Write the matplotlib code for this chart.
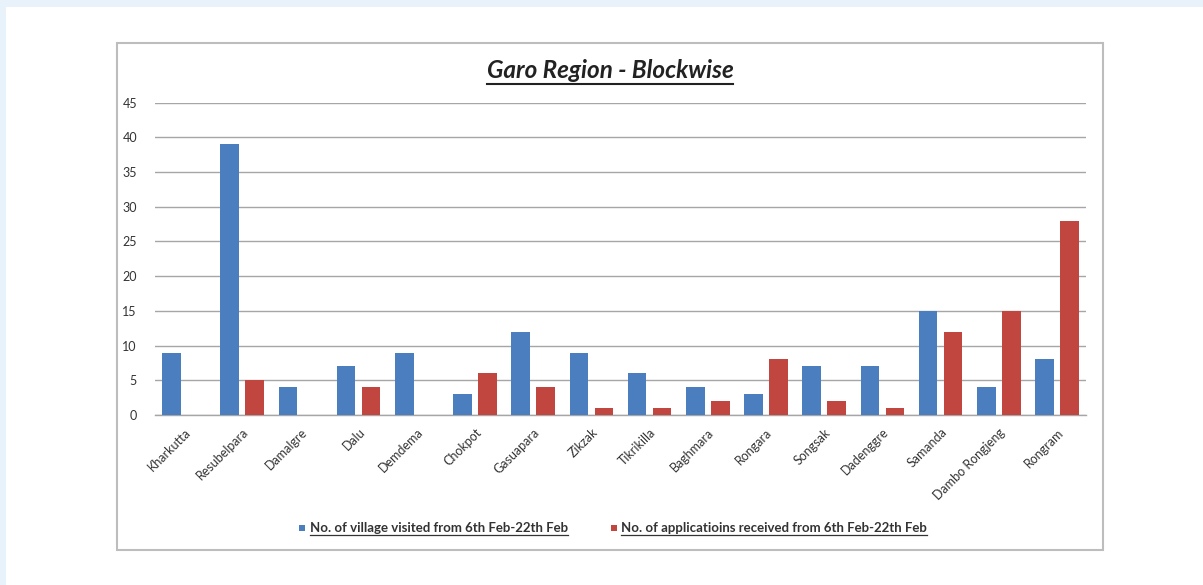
import matplotlib
matplotlib.use("Agg")
import matplotlib.pyplot as plt
from matplotlib.patches import Rectangle
from matplotlib.lines import Line2D
import numpy as np

plt.rcParams['font.family'] = ['Lato', 'DejaVu Sans']

blocks = ["Kharkutta", "Resubelpara", "Damalgre", "Dalu", "Demdema", "Chokpot",
          "Gasuapara", "Zikzak", "Tikrikilla", "Baghmara", "Rongara", "Songsak",
          "Dadenggre", "Samanda", "Dambo Rongjeng", "Rongram"]
villages = [9, 39, 4, 7, 9, 3, 12, 9, 6, 4, 3, 7, 7, 15, 4, 8]
applications = [0, 5, 0, 4, 0, 6, 4, 1, 1, 2, 8, 2, 1, 12, 15, 28]
yticks = [0, 5, 10, 15, 20, 25, 30, 35, 40, 45]
title = "Garo Region - Blockwise"
label_v = "No. of village visited from 6th Feb-22th Feb"
label_a = "No. of applicatioins received from 6th Feb-22th Feb"

W, H = 1203, 585
fig = plt.figure(figsize=(W/100, H/100), dpi=100)
fig.patch.set_facecolor('white')

def fx(px): return px / W
def fy(py): return 1 - py / H

# light blue page strips
fig.patches.append(Rectangle((0, fy(7)), 1, 7/H, transform=fig.transFigure,
                             facecolor='#e8f2fa', edgecolor='none', zorder=-2))
fig.patches.append(Rectangle((0, 0), 6/W, 1, transform=fig.transFigure,
                             facecolor='#e8f2fa', edgecolor='none', zorder=-2))
# chart box
fig.patches.append(Rectangle((fx(117), fy(550)), fx(1103)-fx(117), fy(43)-fy(550),
                             transform=fig.transFigure, facecolor='white',
                             edgecolor='#bdbdbd', linewidth=1.5, zorder=-1))

ax = fig.add_axes([fx(155), fy(415), fx(1086)-fx(155), fy(102.6)-fy(415)])
ax.set_zorder(1)
ax.set_facecolor('none')
x = np.arange(len(blocks))
bw = 0.32
off = 0.215
ax.bar(x - off, villages, bw, color='#4a7ebf', zorder=3)
ax.bar(x + off, applications, bw, color='#c0463f', zorder=3)

ax.set_xlim(-0.5, len(blocks) - 0.5)
ax.set_ylim(0, 45)
ax.set_yticks(yticks)
ax.yaxis.grid(True, color='#a6a6a6', linewidth=1.0, zorder=0)
ax.set_axisbelow(True)
for s in ['top', 'right', 'left']:
    ax.spines[s].set_visible(False)
ax.spines['bottom'].set_color('#a6a6a6')
ax.spines['bottom'].set_linewidth(1.0)
ax.tick_params(axis='both', length=0, colors='#333333', labelsize=9)
ax.tick_params(axis='y', pad=13)
ax.set_xticks(x)
ax.set_xticklabels(blocks, rotation=45, ha='right', rotation_mode='anchor', fontsize=9)
ax.tick_params(axis='x', pad=8)

t = fig.text(fx(610), fy(70), title, ha='center', va='center', fontsize=17.5,
             fontweight='bold', fontstyle='italic', color='#222222')

# legend
ly = fy(528)
sq = 6
fig.patches.append(Rectangle((fx(299), ly - 3/H), sq/W, sq/H, transform=fig.transFigure,
                             facecolor='#4a7ebf', edgecolor='none'))
fig.patches.append(Rectangle((fx(611), ly - 3/H), sq/W, sq/H, transform=fig.transFigure,
                             facecolor='#c0463f', edgecolor='none'))
t1 = fig.text(fx(310), ly, label_v, ha='left', va='center', fontsize=9.5,
              fontweight='bold', color='#333333')
t2 = fig.text(fx(621), ly, label_a, ha='left', va='center', fontsize=9.5,
              fontweight='bold', color='#333333')

fig.canvas.draw()
r = fig.canvas.get_renderer()
for tt, lw, gap in [(t, 1.5, 2), (t1, 0.9, 1), (t2, 0.9, 1)]:
    bb = tt.get_window_extent(r)
    yy = (bb.y0 - gap) / fig.bbox.height
    fig.add_artist(Line2D([bb.x0 / fig.bbox.width, bb.x1 / fig.bbox.width], [yy, yy],
                          transform=fig.transFigure, color=tt.get_color(), linewidth=lw))

fig.savefig("out.png", dpi=100, facecolor='white')
